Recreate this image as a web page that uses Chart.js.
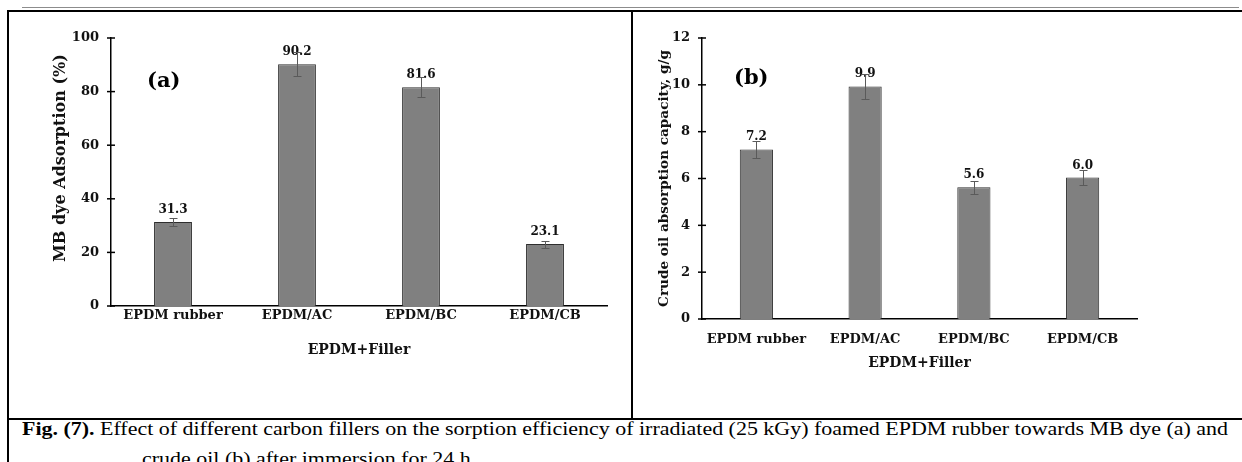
<!DOCTYPE html>
<html>
<head>
<meta charset="utf-8">
<script src="https://cdn.jsdelivr.net/npm/chart.js@4.4.1/dist/chart.umd.min.js"></script>
<style>
  html, body { margin: 0; padding: 0; background: #fff; }
  body { width: 1242px; height: 462px; position: relative; overflow: hidden; }
  .rule { position: absolute; }
  .box { position: absolute; }
  .tag { position: absolute; font: bold 21px "DejaVu Serif", serif; line-height: 21px; color: #000; }
  .cap { position: absolute; font-family: "Liberation Serif", "Times New Roman", serif; font-size: 18px; line-height: 20px; color: #000; white-space: nowrap; transform-origin: 0 0; }
</style>
</head>
<body>
<div class="rule" style="left:22px;top:7px;width:1217px;height:1px;background:#8c8c8c"></div>
<div class="rule" style="left:7px;top:10px;width:1235px;height:2px;background:#000"></div>
<div class="rule" style="left:7px;top:10px;width:2px;height:452px;background:#000"></div>
<div class="rule" style="left:631px;top:12px;width:2px;height:407px;background:#000"></div>
<div class="rule" style="left:7px;top:418px;width:1235px;height:2px;background:#000"></div>

<div class="box" style="left:9px;top:12px;width:622px;height:407px"><canvas id="chartA"></canvas></div>
<div class="box" style="left:633px;top:12px;width:609px;height:407px"><canvas id="chartB"></canvas></div>
<div class="tag" style="left:147px;top:69px">(a)</div>
<div class="tag" style="left:734px;top:66px">(b)</div>

<div class="cap" id="cap1" style="left:22px;top:419px"><b>Fig. (7).</b> Effect of different carbon fillers on the sorption efficiency of irradiated (25 kGy) foamed EPDM rubber towards MB dye (a) and</div>
<div class="cap" id="cap2" style="left:142px;top:449px">crude oil (b) after immersion for 24 h.</div>

<script>
// data
const fillers = ['EPDM rubber', 'EPDM/AC', 'EPDM/BC', 'EPDM/CB'];
const dyeAdsorption = [31.3, 90.2, 81.6, 23.1];
const dyeError = [1.6, 4.5, 3.8, 1.3];
const oilCapacity = [7.24, 9.93, 5.63, 6.04];
const oilError = [0.36, 0.52, 0.28, 0.32];

// caption in the source is set wide, stretch it to the cell width
const cap1 = document.getElementById('cap1');
const cap2 = document.getElementById('cap2');
const stretch = 1206 / cap1.getBoundingClientRect().width;
cap1.style.transform = 'scaleX(' + stretch + ')';
cap2.style.transform = 'scaleX(' + stretch + ')';

Chart.defaults.font.family = '"DejaVu Serif", serif';
Chart.defaults.font.weight = 'bold';
Chart.defaults.color = '#111';

// error bars + value labels on top of each bar
const barExtras = {
  id: 'barExtras',
  afterDatasetsDraw(chart) {
    const ctx = chart.ctx;
    const meta = chart.getDatasetMeta(0);
    const ds = chart.data.datasets[0];
    const y = chart.scales.y;
    ctx.save();
    ctx.fillStyle = '#111';
    ctx.font = 'bold 12px "DejaVu Serif"';
    ctx.textAlign = 'center';
    ctx.textBaseline = 'alphabetic';
    meta.data.forEach((bar, i) => {
      ctx.fillText(ds.data[i].toFixed(1), bar.x, bar.y - 9);
    });
    ctx.strokeStyle = '#5a5a5a';
    ctx.lineWidth = 1;
    meta.data.forEach((bar, i) => {
      const top = Math.round(y.getPixelForValue(ds.data[i] + ds.errors[i])) + 0.5;
      const bottom = Math.round(y.getPixelForValue(ds.data[i] - ds.errors[i])) + 0.5;
      const x = Math.round(bar.x) + 0.5;
      ctx.beginPath();
      ctx.moveTo(x, top); ctx.lineTo(x, bottom);
      ctx.moveTo(x - 4, top); ctx.lineTo(x + 4, top);
      ctx.moveTo(x - 4, bottom); ctx.lineTo(x + 4, bottom);
      ctx.stroke();
    });
    ctx.restore();
  }
};

// excel style "cross" tick marks on the value axis
const crossTicks = {
  id: 'crossTicks',
  afterDraw(chart) {
    const ctx = chart.ctx;
    const y = chart.scales.y;
    const x0 = y.right;
    ctx.save();
    ctx.strokeStyle = '#000';
    ctx.lineWidth = 1.5;
    y.ticks.forEach(t => {
      const py = y.getPixelForValue(t.value);
      ctx.beginPath();
      ctx.moveTo(x0 - 4, py);
      ctx.lineTo(x0 + 4, py);
      ctx.stroke();
    });
    ctx.restore();
  }
};

function createAbsorptionChart(ctx, values, errors, cfg) {
  return new Chart(ctx, {
    type: 'bar',
    data: {
      labels: fillers,
      datasets: [{
        data: values,
        errors: errors,
        backgroundColor: '#808080',
        borderColor: '#2e2e2e',
        borderWidth: 1,
        categoryPercentage: 1,
        barPercentage: 0.305
      }]
    },
    options: {
      responsive: true,
      maintainAspectRatio: false,
      animation: false,
      layout: { padding: { top: 26, right: cfg.padRight, bottom: 0, left: 0 } },
      plugins: { legend: { display: false }, tooltip: { enabled: false } },
      scales: {
        x: {
          grid: { display: false, drawTicks: false },
          border: { color: '#000', width: 1.5 },
          ticks: { padding: cfg.xTickPad, font: { size: 13, weight: 'bold' }, color: '#111' },
          title: { display: true, text: 'EPDM+Filler', font: { size: 14, weight: 'bold' }, color: '#111',
                   padding: { top: 4, bottom: cfg.xTitlePad } },
          afterFit: (scale) => { scale.height = cfg.xHeight; }
        },
        y: {
          min: 0,
          max: cfg.max,
          grid: { display: false, drawTicks: false },
          border: { color: '#000', width: 1.5 },
          ticks: { stepSize: cfg.step, padding: 12, font: { size: 13, weight: 'bold' }, color: '#111' },
          title: { display: true, text: cfg.yTitle, font: { size: cfg.yTitleSize, weight: 'bold' }, color: '#111',
                   padding: { top: cfg.yTitlePad, bottom: 0 } },
          afterFit: (scale) => { scale.width = cfg.yWidth; }
        }
      }
    },
    plugins: [barExtras, crossTicks]
  });
}

createAbsorptionChart(document.getElementById('chartA'), dyeAdsorption, dyeError, {
  max: 100, step: 20, yTitle: '\u00a0\u00a0\u00a0\u00a0\u00a0MB dye Adsorption (%)', yTitleSize: 16,
  yWidth: 102, yTitlePad: 42, xHeight: 113, xTickPad: 2, xTitlePad: 60, padRight: 24
});

createAbsorptionChart(document.getElementById('chartB'), oilCapacity, oilError, {
  max: 12, step: 2, yTitle: 'Crude oil absorption capacity, g/g', yTitleSize: 13.6,
  yWidth: 69, yTitlePad: 23, xHeight: 100, xTickPad: 13, xTitlePad: 47, padRight: 105
});
</script>
</body>
</html>
